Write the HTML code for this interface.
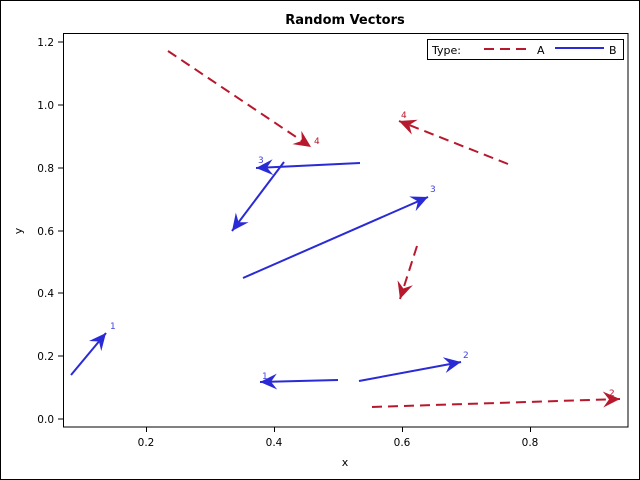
<!DOCTYPE html>
<html><head><style>body{margin:0;background:#fff}svg{display:block}</style></head><body>
<svg width="640" height="480" xmlns="http://www.w3.org/2000/svg" font-family="DejaVu Sans, Liberation Sans, sans-serif">
<defs>
<marker id="ar" viewBox="-18 -9 20 18" markerWidth="20" markerHeight="18" refX="0" refY="0" orient="auto" markerUnits="userSpaceOnUse"><path d="M0,0 L-17,-8 L-11,0 L-17,8 Z" fill="#b8182d"/></marker>
<marker id="ab" viewBox="-18 -9 20 18" markerWidth="20" markerHeight="18" refX="0" refY="0" orient="auto" markerUnits="userSpaceOnUse"><path d="M0,0 L-17,-8 L-11,0 L-17,8 Z" fill="#2a2ad6"/></marker>
</defs>
<rect x="0.5" y="0.5" width="639" height="479" fill="#fff" stroke="#000"/>
<text x="345" y="24" font-size="13" font-weight="bold" text-anchor="middle">Random Vectors</text>
<rect x="63.5" y="33.5" width="564.5" height="393.5" fill="none" stroke="#000"/>
<g font-size="10.5" text-anchor="end">
<text x="54" y="423">0.0</text><text x="54" y="360">0.2</text><text x="54" y="297">0.4</text><text x="54" y="235">0.6</text><text x="54" y="172">0.8</text><text x="54" y="109">1.0</text><text x="54" y="46">1.2</text>
</g>
<g stroke="#000"><line x1="58" x2="63" y1="419" y2="419"/><line x1="58" x2="63" y1="356" y2="356"/><line x1="58" x2="63" y1="293" y2="293"/><line x1="58" x2="63" y1="231" y2="231"/><line x1="58" x2="63" y1="168" y2="168"/><line x1="58" x2="63" y1="105" y2="105"/><line x1="58" x2="63" y1="42" y2="42"/>
<line y1="427" y2="432" x1="146.5" x2="146.5"/><line y1="427" y2="432" x1="274.5" x2="274.5"/><line y1="427" y2="432" x1="402.5" x2="402.5"/><line y1="427" y2="432" x1="530.5" x2="530.5"/></g>
<g font-size="10.5" text-anchor="middle">
<text x="146" y="446">0.2</text><text x="274" y="446">0.4</text><text x="402" y="446">0.6</text><text x="530" y="446">0.8</text>
</g>
<text x="345" y="466" font-size="11" text-anchor="middle">x</text>
<text x="22" y="231" font-size="11" text-anchor="middle" transform="rotate(-90 22 231)">y</text>
<g stroke="#b8182d" stroke-width="2" stroke-dasharray="10,6" fill="none">
<line x1="168" y1="51" x2="311" y2="147" marker-end="url(#ar)"/>
<line x1="508" y1="164" x2="399" y2="121" marker-end="url(#ar)"/>
<line x1="417" y1="246" x2="400" y2="299" marker-end="url(#ar)"/>
<line x1="372" y1="407" x2="620" y2="399" marker-end="url(#ar)"/>
</g>
<g stroke="#2a2ad6" stroke-width="2" fill="none">
<line x1="71" y1="375" x2="106" y2="333" marker-end="url(#ab)"/>
<line x1="359" y1="381" x2="461" y2="362" marker-end="url(#ab)"/>
<line x1="338" y1="380" x2="260" y2="382" marker-end="url(#ab)"/>
<line x1="243" y1="278" x2="428" y2="197" marker-end="url(#ab)"/>
<line x1="360" y1="163" x2="256" y2="168" marker-end="url(#ab)"/>
<line x1="284" y1="162" x2="232" y2="231" marker-end="url(#ab)"/>
</g>
<g font-size="9" fill="#b8182d"><text x="314" y="144">4</text><text x="401" y="118">4</text><text x="609" y="396">2</text></g>
<g font-size="9" fill="#4444e0"><text x="110" y="329">1</text><text x="463" y="358">2</text><text x="262" y="379">1</text><text x="430" y="192">3</text><text x="258" y="163">3</text></g>
<rect x="427.5" y="39.5" width="196" height="20" fill="#fff" stroke="#000"/>
<text x="432" y="54" font-size="11">Type:</text>
<line x1="484" y1="49" x2="529" y2="49" stroke="#b8182d" stroke-width="2" stroke-dasharray="10,6"/>
<text x="537" y="54" font-size="11">A</text>
<line x1="555" y1="48" x2="604" y2="48" stroke="#2a2ad6" stroke-width="2"/>
<text x="609" y="54" font-size="11">B</text>
</svg>
</body></html>
